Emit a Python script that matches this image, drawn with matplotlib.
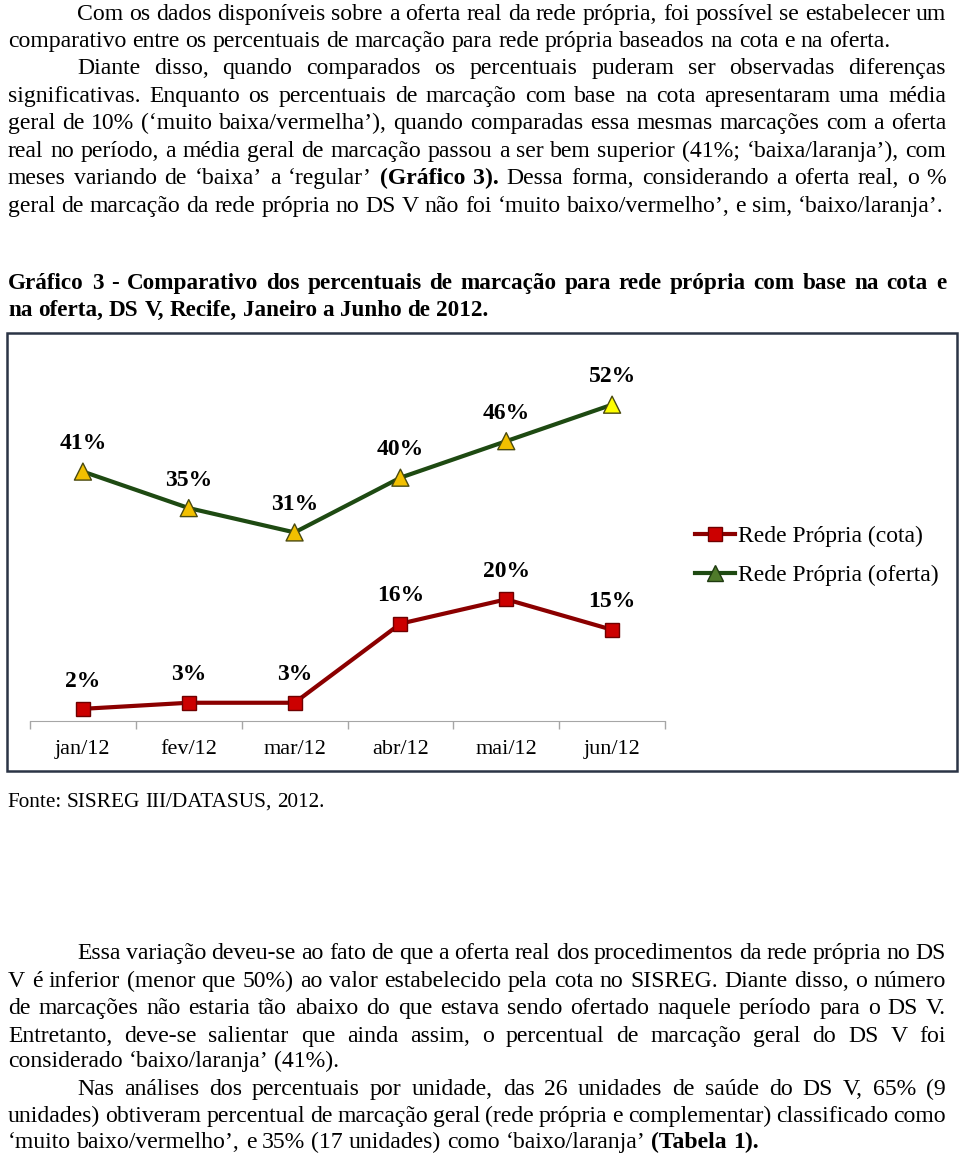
import matplotlib
matplotlib.use('Agg')
import matplotlib.pyplot as plt
from matplotlib.lines import Line2D
from matplotlib.patches import Rectangle

W, H = 960, 1154
SERIF = 'Liberation Serif'

# dados do gráfico
meses = ['jan/12', 'fev/12', 'mar/12', 'abr/12', 'mai/12', 'jun/12']
cota = [2, 3, 3, 16, 20, 15]
oferta = [41, 35, 31, 40, 46, 52]
series = ['Rede Própria (cota)', 'Rede Própria (oferta)']

# texto da página: (texto, recuo, justificado, linha de base)
par1 = [
    ('Com os dados disponíveis sobre a oferta real da rede própria, foi possível se estabelecer um', 77, True, 20),
    ('comparativo entre os percentuais de marcação para rede própria baseados na cota e na oferta.', 8, False, 47),
    ('Diante disso, quando comparados os percentuais puderam ser observadas diferenças', 77, True, 74),
    ('significativas. Enquanto os percentuais de marcação com base na cota apresentaram uma média', 8, True, 102),
    ('geral de 10% (‘muito baixa/vermelha’), quando comparadas essa mesmas marcações com a oferta', 8, True, 129),
    ('real no período, a média geral de marcação passou a ser bem superior (41%; ‘baixa/laranja’), com', 8, True, 157),
    ('meses variando de ‘baixa’ a ‘regular’ **(Gráfico 3).** Dessa forma, considerando a oferta real, o %', 8, True, 184),
    ('geral de marcação da rede própria no DS V não foi ‘muito baixo/vermelho’, e sim, ‘baixo/laranja’.', 8, False, 212),
]
titulo = [
    ('Gráfico 3 - Comparativo dos percentuais de marcação para rede própria com base na cota e', 8, True, 289),
    ('na oferta, DS V, Recife, Janeiro a Junho de 2012.', 8, False, 316),
]
fonte = 'Fonte: SISREG III/DATASUS, 2012.'
par2 = [
    ('Essa variação deveu-se ao fato de que a oferta real dos procedimentos da rede própria no DS', 77, True, 959),
    ('V é inferior (menor que 50%) ao valor estabelecido pela cota no SISREG. Diante disso, o número', 8, True, 987),
    ('de marcações não estaria tão abaixo do que estava sendo ofertado naquele período para o DS V.', 8, True, 1014),
    ('Entretanto, deve-se salientar que ainda assim, o percentual de marcação geral do DS V foi', 8, True, 1042),
    ('considerado ‘baixo/laranja’ (41%).', 8, False, 1067),
    ('Nas análises dos percentuais por unidade, das 26 unidades de saúde do DS V, 65% (9', 77, True, 1095),
    ('unidades) obtiveram percentual de marcação geral (rede própria e complementar) classificado como', 8, True, 1122),
    ('‘muito baixo/vermelho’, e 35% (17 unidades) como ‘baixo/laranja’  **(Tabela 1).**', 8, False, 1148),
]
MARGEM_DIR = 946

fig = plt.figure(figsize=(W / 100, H / 100), dpi=100)
renderer = fig.canvas.get_renderer()


def tokens(linha, negrito=False):
    out = []
    for w in linha.split():
        ini = w.startswith('**')
        fim = w.endswith('**') and len(w) > 2
        w = w.strip('*')
        if ini:
            negrito = True
        out.append((w, negrito))
        if fim:
            negrito = False
    return out


def largura(txt, size, bold):
    t = fig.text(0, 0, txt, fontsize=size, family=SERIF,
                 weight='bold' if bold else 'normal')
    w = t.get_window_extent(renderer).width
    t.remove()
    return w


def largura_natural(linha, size, negrito=False):
    toks = tokens(linha, negrito)
    return sum(largura(w, size, b) for w, b in toks) + size * 100 / 72 * 0.25 * (len(toks) - 1)


def desenha(linha, x0, just, y, size, negrito=False):
    toks = tokens(linha, negrito)
    ws = [largura(w, size, b) for w, b in toks]
    esp = size * 100 / 72 * 0.25
    if just and len(toks) > 1:
        esp = (MARGEM_DIR - x0 - sum(ws)) / (len(toks) - 1)
    x = x0
    for (w, b), lw in zip(toks, ws):
        fig.text(x / W, 1 - y / H, w, fontsize=size, family=SERIF,
                 weight='bold' if b else 'normal', va='baseline', ha='left')
        x += lw + esp


# tamanhos ajustados à largura das últimas linhas
s_corpo = 10 * (893 - 8) / largura_natural(par1[1][0], 10)
s_tit = 10 * (490 - 8) / largura_natural(titulo[1][0], 10, True)
s_fonte = 10 * (325 - 7) / largura_natural(fonte, 10)

for txt, x0, j, y in par1 + par2:
    desenha(txt, x0, j, y, s_corpo)
for txt, x0, j, y in titulo:
    desenha(txt, x0, j, y, s_tit, negrito=True)
desenha(fonte, 7, False, 807, s_fonte)

# moldura do gráfico
fig.add_artist(Rectangle((7 / W, 1 - 771 / H), 950 / W, 438 / H, transform=fig.transFigure,
                         fill=False, edgecolor='#2B3445', linewidth=1.8))

ax = fig.add_axes([30 / W, 1 - 721 / H, 635 / W, 365 / H])
x = list(range(len(meses)))

ax.plot(x, cota, color='#8B0000', lw=3, marker='s', ms=10,
        mfc='#CC0000', mec='#6E0000', mew=1, zorder=3)
ax.plot(x, oferta, color='#1E4A12', lw=3, zorder=3)
cores_tri = ['#F2C000'] * (len(oferta) - 1) + ['#FFFF00']
ax.scatter(x, oferta, marker='^', s=150, c=cores_tri, edgecolors='#4A4A10',
           linewidths=1, zorder=4)

for i in x:
    for v in (cota[i], oferta[i]):
        ax.annotate(f'{v}%', (i, v), xytext=(0, 20), textcoords='offset points',
                    ha='center', va='center', fontsize=17, fontweight='bold',
                    family=SERIF)

ax.set_xlim(-0.5, len(meses) - 0.5)
ax.set_ylim(0, 60)
ax.set_yticks([])
ax.set_xticks(x)
ax.set_xticklabels(meses, fontsize=16, family=SERIF)
ax.set_xticks([i - 0.5 for i in range(len(meses) + 1)], minor=True)
ax.tick_params(axis='x', which='major', length=0, pad=14)
ax.tick_params(axis='x', which='minor', length=6, color='#A6A6A6', width=1)
for s in ('left', 'top', 'right'):
    ax.spines[s].set_visible(False)
ax.spines['bottom'].set_color('#A6A6A6')
ax.patch.set_alpha(0)

h1 = Line2D([], [], color='#8B0000', lw=3, marker='s', ms=10, mfc='#CC0000', mec='#6E0000')
h2 = Line2D([], [], color='#1E4A12', lw=3, marker='^', ms=11, mfc='#4F7A2A', mec='#1E3A10')
fig.legend([h1, h2], series, loc='center left', bbox_to_anchor=(695 / W, 1 - 556 / H),
           bbox_transform=fig.transFigure, frameon=False,
           prop={'family': SERIF, 'size': 17}, handlelength=1.7,
           handletextpad=0.12, labelspacing=0.72, borderpad=0, borderaxespad=0)

fig.savefig('out.png', dpi=100)
